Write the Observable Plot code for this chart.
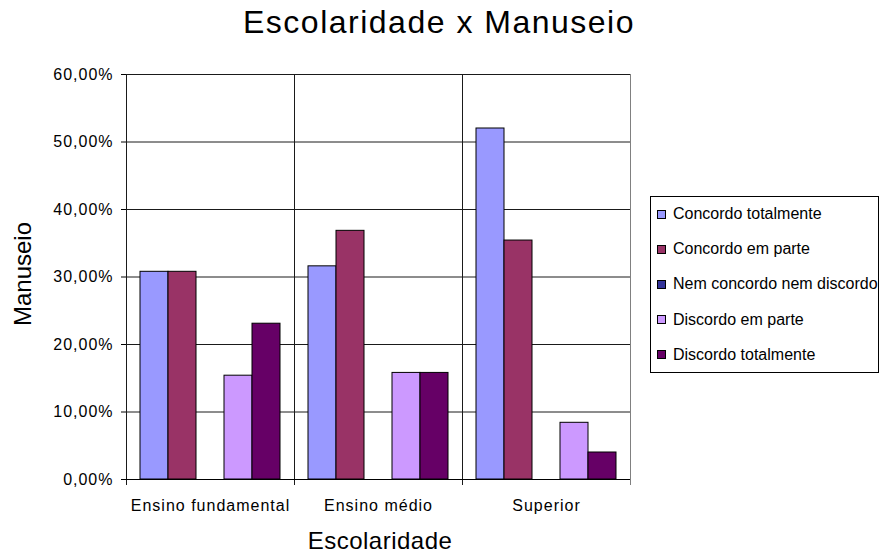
<!DOCTYPE html>
<html>
<head>
<meta charset="utf-8">
<script src="https://cdn.jsdelivr.net/npm/d3@7"></script>
<script src="https://cdn.jsdelivr.net/npm/@observablehq/plot@0.6"></script>
<style>
  html, body { margin: 0; padding: 0; background: #fff; }
  #wrap { position: relative; width: 880px; height: 558px; font-family: "Liberation Sans", Arial, sans-serif; color: #000; }
  #wrap svg { position: absolute; left: 0; top: 0; }
  #title { position: absolute; left: 0; width: 878px; top: 4px; text-align: center; font-size: 32px; letter-spacing: 1.5px; white-space: nowrap; }
  #xlabel { position: absolute; left: 0; width: 760px; top: 527px; text-align: center; font-size: 24px; letter-spacing: 0.5px; }
  #ylabel { position: absolute; left: 23px; top: 274px; font-size: 24px; white-space: nowrap; transform: translate(-50%, -50%) rotate(-90deg); }
  #legend { position: absolute; left: 650px; top: 196px; width: 227px; height: 175px; border: 1px solid #000; background: #fff; }
  .item { position: absolute; left: 6px; height: 20px; display: flex; align-items: center; font-size: 16px; white-space: nowrap; }
  .sw { width: 7px; height: 7px; border: 1px solid #000; margin-right: 7px; }
  [aria-label="y-axis tick label"] text { letter-spacing: 1px; }
  [aria-label="fx-axis tick label"] text { letter-spacing: 1px; }
</style>
</head>
<body>
<div id="wrap">
  <div id="title">Escolaridade x Manuseio</div>
  <div id="xlabel">Escolaridade</div>
  <div id="ylabel">Manuseio</div>
  <div id="legend"></div>
</div>
<script>
const groups = ["Ensino fundamental", "Ensino médio", "Superior"];
const series = ["Concordo totalmente", "Concordo em parte", "Nem concordo nem discordo", "Discordo em parte", "Discordo totalmente"];
const colors = ["#9999FF", "#993366", "#333399", "#CC99FF", "#660066"];
const ensinoFundamental = [0.3077, 0.3077, 0, 0.1538, 0.2308];
const ensinoMedio = [0.3158, 0.3684, 0, 0.1579, 0.1579];
const superior = [0.52, 0.354, 0, 0.084, 0.04];
const yTicks = [0, 0.1, 0.2, 0.3, 0.4, 0.5, 0.6];

const valuesByGroup = [ensinoFundamental, ensinoMedio, superior];
const data = [];
groups.forEach((g, gi) => series.forEach((s, si) => data.push({group: g, series: s, value: valuesByGroup[gi][si]})));
const fmt = d => (d * 100).toFixed(2).replace(".", ",") + "%";

const chart = Plot.plot({
  width: 880,
  height: 558,
  marginLeft: 125,
  marginRight: 249,
  marginTop: 74,
  marginBottom: 79,
  style: {fontFamily: '"Liberation Sans", Arial, sans-serif', background: "transparent", color: "#000"},
  fx: {domain: groups, padding: 0, label: null},
  x: {domain: series, paddingInner: 0, paddingOuter: 0.5, axis: null},
  y: {domain: [0, 0.6], axis: null},
  color: {domain: series, range: colors},
  marks: [
    Plot.ruleY(yTicks, {stroke: "#1a1a1a", strokeWidth: 1}),
    Plot.frame({anchor: "right", stroke: "#808080", insetBottom: -5}),
    Plot.frame({anchor: "left", stroke: "#1a1a1a", insetBottom: -5}),
    Plot.barY(data.filter(d => d.value > 0), {fx: "group", x: "series", y: "value", fill: "series", stroke: "#000", strokeWidth: 1}),
    Plot.axisY({ticks: yTicks, tickFormat: fmt, tickSize: 5, tickPadding: 8, fontSize: 16, label: null, stroke: "#000"}),
    Plot.axisFx({anchor: "bottom", tickSize: 0, tickPadding: 20, fontSize: 16, label: null}),
    Plot.ruleY([0], {stroke: "#000", strokeWidth: 1})
  ]
});
document.getElementById("wrap").appendChild(chart);

const legend = document.getElementById("legend");
series.forEach((s, i) => {
  const item = document.createElement("div");
  item.className = "item";
  item.style.top = (7 + i * 35.2) + "px";
  const sw = document.createElement("div");
  sw.className = "sw";
  sw.style.background = colors[i];
  const t = document.createElement("span");
  t.textContent = s;
  item.appendChild(sw);
  item.appendChild(t);
  legend.appendChild(item);
});
</script>
</body>
</html>
